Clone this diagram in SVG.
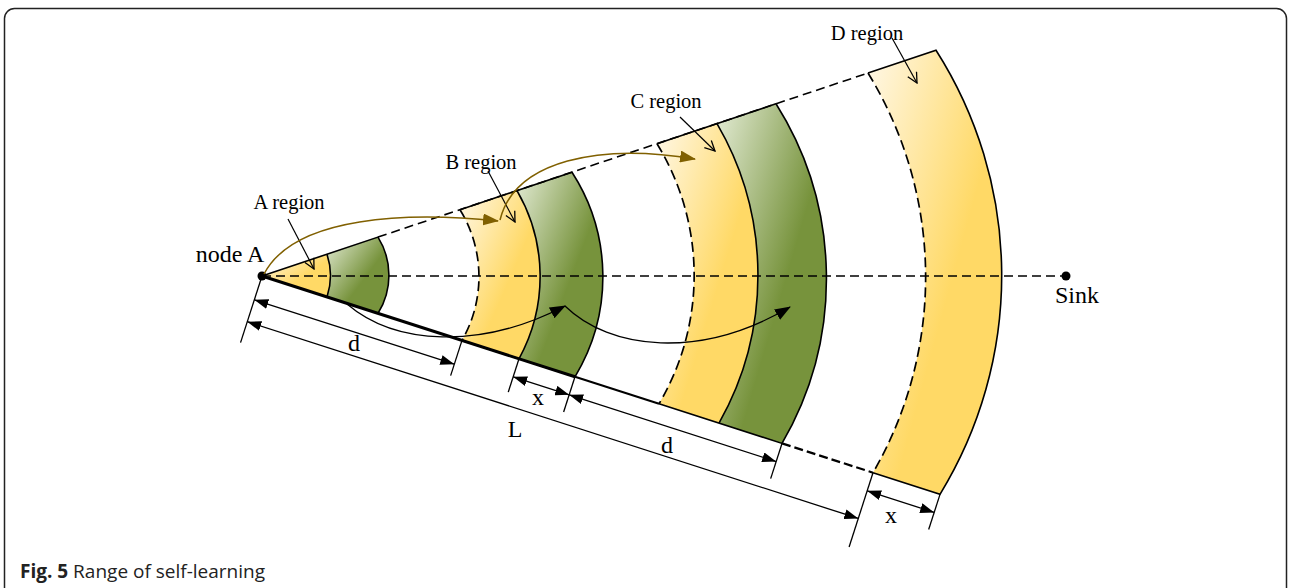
<svg xmlns="http://www.w3.org/2000/svg" width="1290" height="588" viewBox="0 0 1290 588">
<style>
.lbl{font-family:"Liberation Serif","Times New Roman",serif;fill:#000}
.reg{font-size:20.5px}
.big{font-size:24px}
.edge{fill:none;stroke:#000;stroke-width:1.6}
.dashe{fill:none;stroke:#000;stroke-width:1.7;stroke-dasharray:10 5}
.dim{fill:none;stroke:#000;stroke-width:1.3}
</style>
<defs>
<linearGradient id="gy" x1="0" y1="0" x2="0.6" y2="0.55">
<stop offset="0" stop-color="#FFF8E8"/>
<stop offset="1" stop-color="#FFD966"/>
</linearGradient>
<linearGradient id="gg" x1="0" y1="0" x2="0.6" y2="0.55">
<stop offset="0" stop-color="#E4ECD6"/>
<stop offset="1" stop-color="#77933C"/>
</linearGradient>
<marker id="open" viewBox="0 0 12 12" refX="11" refY="6" markerWidth="12" markerHeight="12" markerUnits="userSpaceOnUse" orient="auto">
<path d="M1,1 L11,6 L1,11" fill="none" stroke="#000" stroke-width="1.3"/>
</marker>
<marker id="brown" viewBox="0 0 16 12" refX="15" refY="6" markerWidth="16" markerHeight="12" markerUnits="userSpaceOnUse" orient="auto">
<path d="M0,0 L16,6 L0,12 Z" fill="#806000"/>
</marker>
<marker id="blk" viewBox="0 0 16 12" refX="15" refY="6" markerWidth="16" markerHeight="12" markerUnits="userSpaceOnUse" orient="auto">
<path d="M0,0 L16,6 L0,12 Z" fill="#000"/>
</marker>
<marker id="dimA" viewBox="0 0 14 10" refX="14" refY="5" markerWidth="14" markerHeight="10" markerUnits="userSpaceOnUse" orient="auto-start-reverse">
<path d="M0,0 L14,5 L0,10 Z" fill="#000"/>
</marker>
</defs>

<rect x="4.5" y="8.5" width="1282" height="600" rx="10" ry="10" fill="#fff" stroke="#222" stroke-width="1.5"/>

<g id="regionA">
<path d="M262,276 L327,254.2 A68,68 0 0 1 327,296.9 Z" fill="url(#gy)"/>
<path d="M327,254.2 L378,237.1 A72,72 0 0 1 378,313.4 L327,296.9 A68,68 0 0 0 327,254.2 Z" fill="url(#gg)"/>
<path d="M327,254.2 A68,68 0 0 1 327,296.9" class="edge"/>
<path d="M262,276 L378,237.1 A72,72 0 0 1 378,313.4" class="edge"/>
</g>

<g id="regionB">
<path d="M460,209.7 L517,190.6 A171,171 0 0 1 519,358.8 L462,340.4 A128,128 0 0 0 460,209.7 Z" fill="url(#gy)"/>
<path d="M517,190.6 L572,172.2 A193,193 0 0 1 575,376.8 L519,358.8 A171,171 0 0 0 517,190.6 Z" fill="url(#gg)"/>
<path d="M460,209.7 L572,172.2 A193,193 0 0 1 575,376.8 L462,340.4" class="edge"/>
<path d="M517,190.6 A171,171 0 0 1 519,358.8" class="edge"/>
<path d="M460,209.7 A128,128 0 0 1 462,340.4" class="dashe"/>
</g>

<g id="regionC">
<path d="M657,143.7 L717,123.6 A301,301 0 0 1 719,423.2 L659,403.8 A252,252 0 0 0 657,143.7 Z" fill="url(#gy)"/>
<path d="M717,123.6 L776,103.8 A328,328 0 0 1 782,443.4 L719,423.2 A301,301 0 0 0 717,123.6 Z" fill="url(#gg)"/>
<path d="M657,143.7 L776,103.8 A328,328 0 0 1 782,443.4 L659,403.8" class="edge"/>
<path d="M717,123.6 A301,301 0 0 1 719,423.2" class="edge"/>
<path d="M657,143.7 A252,252 0 0 1 659,403.8" class="dashe"/>
</g>

<g id="regionD">
<path d="M868,73 L936,50.2 A419,419 0 0 1 940,494.3 L873,472.7 A390,390 0 0 0 868,73 Z" fill="url(#gy)"/>
<path d="M868,73 L936,50.2 A419,419 0 0 1 940,494.3 L873,472.7" class="edge"/>
<path d="M868,73 A390,390 0 0 1 873,472.7" class="dashe"/>
</g>

<g id="axis">
<line x1="262" y1="276" x2="1066" y2="276" stroke="#000" stroke-width="1.3" stroke-dasharray="9 5"/>
</g>

<g id="boundaries">
<line x1="378" y1="237.1" x2="868" y2="73" stroke="#000" stroke-width="1.6" stroke-dasharray="9 5"/>
<line x1="262" y1="276" x2="575" y2="376.8" stroke="#000" stroke-width="3"/>
<line x1="575" y1="376.8" x2="659" y2="403.8" stroke="#000" stroke-width="2"/>
<line x1="782" y1="443.4" x2="873" y2="472.7" stroke="#000" stroke-width="2.2" stroke-dasharray="9 4"/>
</g>

<g id="nodeA">
<circle cx="262" cy="276" r="4.5" fill="#000"/>
<text class="lbl big" x="230" y="262" text-anchor="middle">node A</text>
</g>
<g id="sink">
<circle cx="1066" cy="276" r="4.5" fill="#000"/>
<text class="lbl big" x="1077" y="303" text-anchor="middle">Sink</text>
</g>

<g id="labels">
<text class="lbl reg" x="289" y="209" text-anchor="middle">A region</text>
<text class="lbl reg" x="481" y="169" text-anchor="middle">B region</text>
<text class="lbl reg" x="666" y="108" text-anchor="middle">C region</text>
<text class="lbl reg" x="867" y="40" text-anchor="middle">D region</text>
</g>

<g id="connectors">
<line x1="288" y1="219" x2="314" y2="269" stroke="#000" stroke-width="1.2" marker-end="url(#open)"/>
<line x1="488" y1="171" x2="515" y2="222" stroke="#000" stroke-width="1.2" marker-end="url(#open)"/>
<line x1="680" y1="117" x2="715" y2="151" stroke="#000" stroke-width="1.2" marker-end="url(#open)"/>
<line x1="892" y1="38" x2="917" y2="83" stroke="#000" stroke-width="1.2" marker-end="url(#open)"/>
<path d="M264,274 C295,215 410,212 498,221" fill="none" stroke="#806000" stroke-width="1.5" marker-end="url(#brown)"/>
<path d="M500,220 C515,160 600,143 695,159" fill="none" stroke="#806000" stroke-width="1.5" marker-end="url(#brown)"/>
<path d="M347,304 C395,345 480,350 565,306" fill="none" stroke="#000" stroke-width="1.3" marker-end="url(#blk)"/>
<path d="M565,306 C610,350 700,360 790,307" fill="none" stroke="#000" stroke-width="1.3" marker-end="url(#blk)"/>
</g>

<g id="dimensions" transform="translate(262,276) rotate(17.85)">
<line x1="0" y1="0" x2="0" y2="70" class="dim"/>
<line x1="210.1" y1="0" x2="210.1" y2="37" class="dim"/>
<line x1="270" y1="0" x2="270" y2="35" class="dim"/>
<line x1="328.8" y1="0" x2="328.8" y2="37" class="dim"/>
<line x1="546.3" y1="0" x2="546.3" y2="37" class="dim"/>
<line x1="641.9" y1="0" x2="641.9" y2="78" class="dim"/>
<line x1="712.3" y1="0" x2="712.3" y2="37" class="dim"/>
<line x1="0" y1="25" x2="210.1" y2="25" class="dim" marker-start="url(#dimA)" marker-end="url(#dimA)"/>
<line x1="0" y1="48" x2="641.9" y2="48" class="dim" marker-start="url(#dimA)" marker-end="url(#dimA)"/>
<line x1="270" y1="19" x2="328.8" y2="19" class="dim" marker-start="url(#dimA)" marker-end="url(#dimA)"/>
<line x1="328.8" y1="19" x2="546.3" y2="19" class="dim" marker-start="url(#dimA)" marker-end="url(#dimA)"/>
<line x1="641.9" y1="19" x2="712.3" y2="19" class="dim" marker-start="url(#dimA)" marker-end="url(#dimA)"/>
</g>
<g id="dimlabels">
<text class="lbl big" x="354" y="351" text-anchor="middle">d</text>
<text class="lbl big" x="515" y="437" text-anchor="middle">L</text>
<text class="lbl big" x="538" y="405" text-anchor="middle">x</text>
<text class="lbl big" x="667" y="453" text-anchor="middle">d</text>
<text class="lbl big" x="891" y="523" text-anchor="middle">x</text>
</g>

<g id="caption">
<text x="20" y="578" font-family="'Open Sans','Liberation Sans',sans-serif" font-size="19" fill="#222"><tspan font-weight="bold">Fig. 5</tspan> Range of self-learning</text>
</g>
</svg>
